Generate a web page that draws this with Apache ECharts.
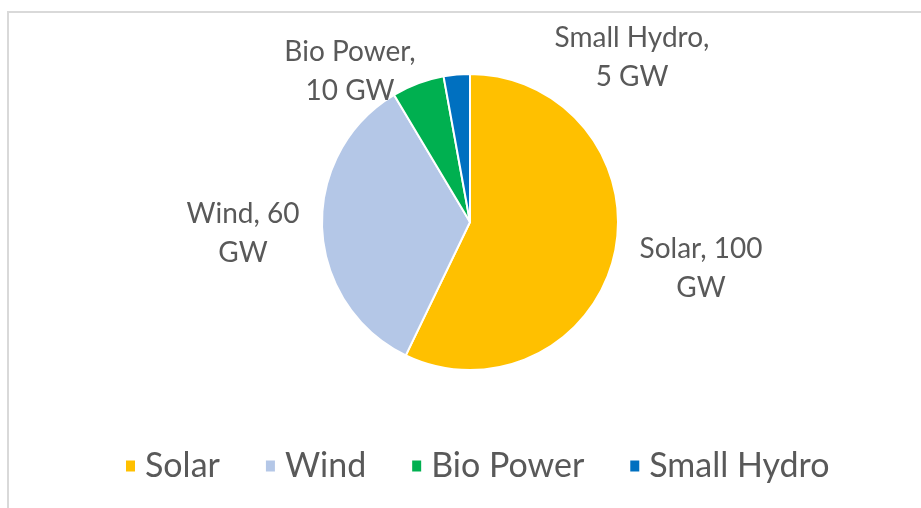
<!DOCTYPE html>
<html>
<head>
<meta charset="utf-8">
<script src="https://cdn.jsdelivr.net/npm/echarts@6/dist/echarts.min.js"></script>
<style>
  html, body { margin: 0; padding: 0; background: #fff; }
  #chart { width: 921px; height: 508px; }
</style>
</head>
<body>
<div id="chart"></div>
<script>
const categories = ['Solar', 'Wind', 'Bio Power', 'Small Hydro']
const capacityGW = [100, 60, 10, 5]
const sliceColors = ['#FFC000', '#B4C7E7', '#00B050', '#0070C0']

// label anchor points (centre of each text block)
const labelPos = [[701, 268], [243, 233], [350, 71], [632, 57]]

const chart = echarts.init(document.getElementById('chart'))

chart.setOption({
  backgroundColor: '#fff',
  color: sliceColors,
  textStyle: { fontFamily: 'Lato' },
  graphic: [{
    type: 'rect',
    shape: { x: 8, y: 12, width: 930, height: 520 },
    style: { fill: 'none', stroke: '#d9d9d9', lineWidth: 2 },
    silent: true
  }],
  legend: {
    top: 449,
    left: 124,
    padding: 0,
    itemWidth: 11,
    itemHeight: 13,
    itemGap: 44,
    icon: 'rect',
    textStyle: { fontSize: 34, color: '#595959', fontFamily: 'Lato', padding: [0, 0, 0, 4] },
    data: categories
  },
  series: [{
    type: 'pie',
    center: [470, 222],
    radius: [0, 148],
    startAngle: 90,
    clockwise: true,
    animation: false,
    itemStyle: { borderColor: '#fff', borderWidth: 2 },
    label: {
      show: true,
      position: 'outside',
      formatter: p => p.dataIndex === 2 || p.dataIndex === 3
        ? p.name + ',\n' + p.value + ' GW'
        : p.name + ', ' + p.value + '\nGW',
      fontSize: 28,
      lineHeight: 39,
      color: '#595959',
      fontFamily: 'Lato',
      align: 'center'
    },
    labelLine: { show: false },
    labelLayout: p => ({
      x: labelPos[p.dataIndex][0],
      y: labelPos[p.dataIndex][1],
      align: 'center',
      verticalAlign: 'middle'
    }),
    data: categories.map((name, i) => ({ name, value: capacityGW[i] }))
  }]
})
</script>
</body>
</html>
